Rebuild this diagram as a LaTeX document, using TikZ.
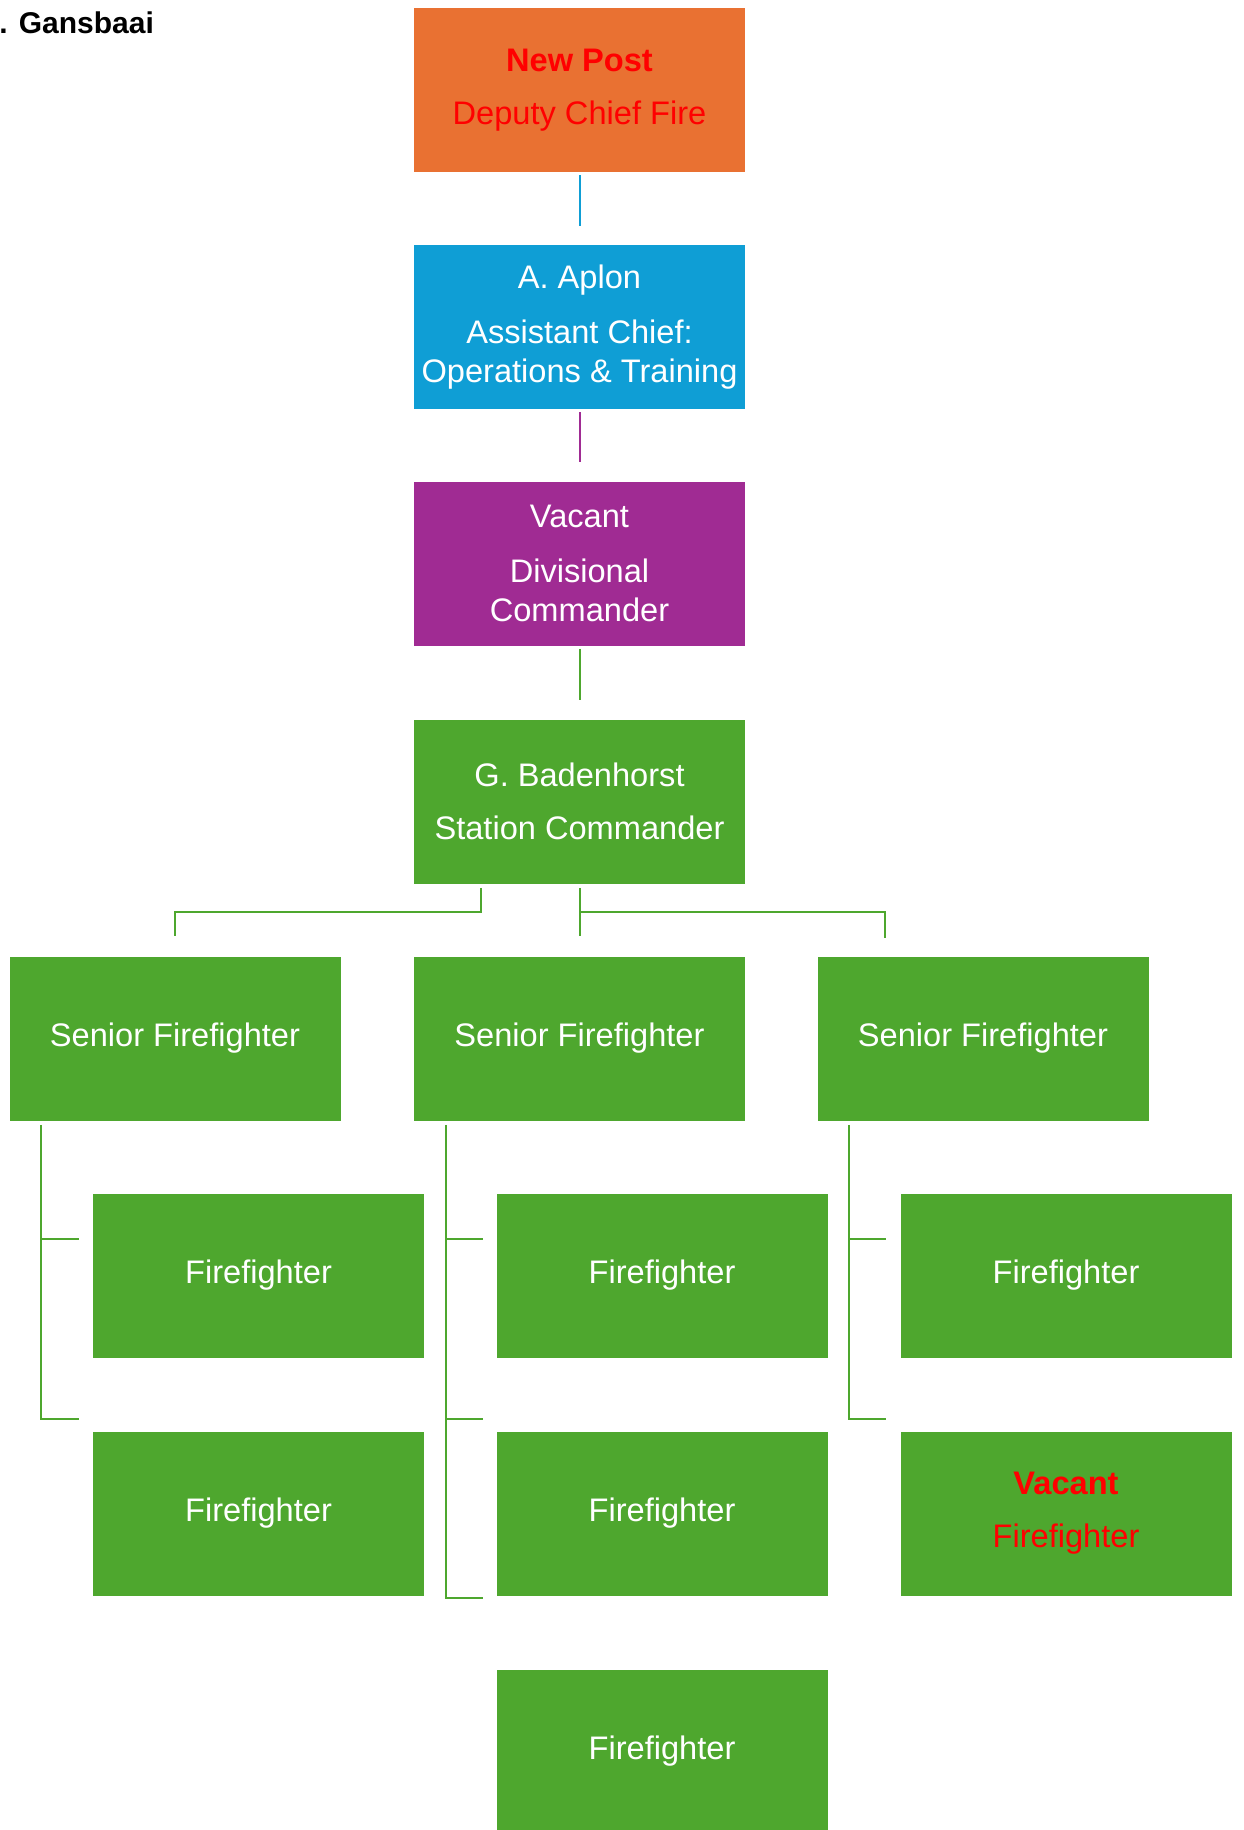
\documentclass[tikz,border=0pt]{standalone}
\usepackage{fontspec}
\setmainfont{Liberation Sans}
\usepackage{xcolor}
\definecolor{postorange}{HTML}{E97132}
\definecolor{postblue}{HTML}{0F9ED5}
\definecolor{postpurple}{HTML}{A02B93}
\definecolor{postgreen}{HTML}{4EA72E}
\definecolor{postred}{HTML}{FF0000}

\begin{document}
\begin{tikzpicture}[x=0.5pt,y=0.5pt,
    post/.style={rectangle, minimum width=165.5pt, minimum height=82pt, inner sep=0pt,
        align=center, text=white, font=\fontsize{16.3}{19.5}\selectfont},
    link/.style={line width=1pt, shorten <=1.5pt, shorten >=9.5pt},
    tree/.style={line width=1pt, postgreen}]
            \useasboundingbox (0,0) rectangle (1243,-1830);
            \node[anchor=west, inner sep=0pt, font=\bfseries\fontsize{15}{18}\selectfont] (title) at (-1,-23) {. Gansbaai};
            \begin{scope}
                \node[post, fill=postorange, text=postred] (dep) at (579.5,-90) {\textbf{New Post}\\[7pt]Deputy Chief Fire};
                \node[post, fill=postblue] (ast) at (579.5,-327) {A. Aplon\\[8pt]Assistant Chief:\\Operations \& Training};
                \node[post, fill=postpurple] (div) at (579.5,-563.5) {Vacant\\[8pt]Divisional\\Commander};
                \node[post, fill=postgreen] (stn) at (579.5,-801.5) {G. Badenhorst\\[7pt]Station Commander};
            \end{scope}
            \draw[link, postblue] (dep) -- (ast);
            \draw[link, postpurple] (ast) -- (div);
            \draw[link, postgreen] (div) -- (stn);
            \begin{scope}
                \node[post, fill=postgreen] (sfA) at (175,-1038.5) {Senior Firefighter};
                \node[post, fill=postgreen] (sfB) at (579.5,-1038.5) {Senior Firefighter};
                \node[post, fill=postgreen] (sfC) at (983,-1038.5) {Senior Firefighter};
            \end{scope}
            \draw[tree] (stn.south) ++(-98.5,-4) -- ++(0,-24) -| ([yshift=10pt]sfA.north);
            \draw[tree] ([yshift=-2pt]stn.south) -- ([yshift=10pt]sfB.north);
            \draw[tree] (stn.south) ++(0,-28) -| ++(305.5,-26);
            \begin{scope}
                \node[post, fill=postgreen] (ffA1) at (258.5,-1275.5) {Firefighter};
                \node[post, fill=postgreen] (ffA2) at (258.5,-1513.5) {Firefighter};
                \node[post, fill=postgreen] (ffB1) at (662,-1275.5) {Firefighter};
                \node[post, fill=postgreen] (ffB2) at (662,-1513.5) {Firefighter};
                \node[post, fill=postgreen] (ffB3) at (662,-1751.5) {Firefighter};
                \node[post, fill=postgreen] (ffC1) at (1066,-1275.5) {Firefighter};
                \node[post, fill=postgreen, text=postred] (ffC2) at (1066,-1513.5) {\textbf{Vacant}\\[7pt]Firefighter};
            \end{scope}
            \draw[tree] (sfA.south west) ++(32,-4) coordinate (a) -- ++(0,-294) -- ++(38,0);
            \draw[tree] (a) ++(0,-114) -- ++(38,0);
            \draw[tree] (sfB.south west) ++(32,-4) coordinate (b) -- ++(0,-473) -- ++(37,0);
            \draw[tree] (b) ++(0,-114) -- ++(37,0);
            \draw[tree] (b) ++(0,-294) -- ++(37,0);
            \draw[tree] (sfC.south west) ++(32,-4) coordinate (c) -- ++(0,-294) -- ++(37,0);
            \draw[tree] (c) ++(0,-114) -- ++(37,0);
        \end{tikzpicture}
\end{document}
